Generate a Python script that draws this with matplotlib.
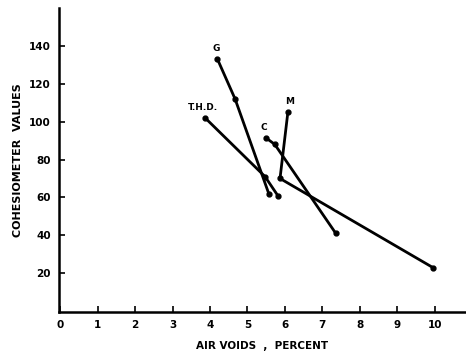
import matplotlib.pyplot as plt

# air voids (percent) vs cohesiometer values for each mix
g_voids = [4.2, 4.67, 5.57]
g_coh = [133, 112, 62]
thd_voids = [3.87, 5.47, 5.81]
thd_coh = [102, 71, 61]
c_voids = [5.49, 5.73, 7.36]
c_coh = [91.5, 88, 41]
m_voids = [6.08, 5.87, 9.95]
m_coh = [105, 70, 23]

x_ticks = list(range(0, 11))
y_ticks = [20, 40, 60, 80, 100, 120, 140]

fig = plt.figure(figsize=(4.66, 3.62), dpi=100)
ax = fig.add_axes([0.1266, 0.138, 0.873, 0.84])

for xs, ys in [(g_voids, g_coh), (thd_voids, thd_coh), (c_voids, c_coh), (m_voids, m_coh)]:
    ax.plot(xs, ys, color='black', lw=2, marker='o', ms=3.5, solid_capstyle='round')

lbl = dict(fontsize=6.5, fontweight='bold', ha='center', va='bottom')
ax.text(g_voids[0] - 0.03, g_coh[0] + 3, 'G', **lbl)
ax.text(thd_voids[0] - 0.05, thd_coh[0] + 3, 'T.H.D.', **lbl)
ax.text(c_voids[0] - 0.05, c_coh[0] + 3, 'C', **lbl)
ax.text(m_voids[0] + 0.05, m_coh[0] + 3, 'M', **lbl)

ax.set_xlim(-0.03, 10.83)
ax.set_ylim(-0.5, 160)
ax.set_xticks(x_ticks)
ax.set_yticks(y_ticks)
ax.set_xticklabels([str(v) for v in x_ticks], fontsize=7.5, fontweight='bold')
ax.set_yticklabels([str(v) for v in y_ticks], fontsize=7.5, fontweight='bold')
ax.tick_params(direction='in', length=4, width=1.2, pad=6)
ax.tick_params(axis='y', pad=6)

for s in ['top', 'right']:
    ax.spines[s].set_visible(False)
for s in ['left', 'bottom']:
    ax.spines[s].set_linewidth(1.8)

ax.set_xlabel('AIR VOIDS  ,  PERCENT', fontsize=7.5, fontweight='bold', labelpad=8)
ax.set_ylabel('COHESIOMETER  VALUES', fontsize=8, fontweight='bold', labelpad=4)

fig.savefig('out.png', dpi=100)
